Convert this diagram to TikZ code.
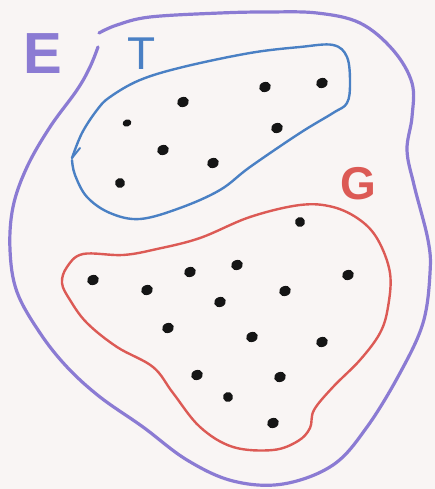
\documentclass[tikz,border=0pt]{standalone}
\usepackage{fontspec}
\setmainfont{Liberation Sans}
\usetikzlibrary{shapes.geometric}
\definecolor{paper}{HTML}{F9F5F4}
\definecolor{penE}{HTML}{8B7BD3}
\definecolor{penT}{HTML}{4A80C4}
\definecolor{penG}{HTML}{DC5A55}
\definecolor{ink}{HTML}{151515}
\begin{document}
\begin{tikzpicture}[x=1pt,y=-1pt,
  dotn/.style={ellipse,fill=ink,inner sep=0pt,minimum width=12pt,minimum height=10pt,rotate=20},
  lbl/.style={inner sep=0pt,anchor=center},
  penline/.style={line width=#1,line cap=round,line join=round}]
\fill[paper] (0,0) rectangle (435,489);
\useasboundingbox (0,0) rectangle (435,489);
% outer set E
\draw[penE,penline=3.2pt] plot[smooth,tension=0.6] coordinates {(99,33) (117,25) (150,17) (220,13) (267,12) (317,13) (360,23) (393,50) (412,83) (412,117) (407,150) (414,185) (428,240) (430,273) (423,323) (400,373) (367,427) (333,465) (283,484) (233,481) (187,460) (143,427) (100,397) (67,367) (40,333) (17,292) (10,250) (13,207) (27,167) (50,127) (77,90) (90,67) (98,47)};
% set T
\draw[penT,penline=2.4pt] plot[smooth,tension=0.6] coordinates {(72,158) (82,133) (97,110) (110,97) (140,80) (183,67) (250,53) (300,47) (333,45) (347,57) (350,83) (347,103) (333,113) (300,133) (250,167) (220,190) (180,208) (140,219) (110,213) (87,197) (75,175) (72,160)};
\draw[penT,penline=2pt] (72,158) -- (80,148);
% set G
\draw[penG,penline=2.4pt] plot[smooth cycle,tension=0.6] coordinates {(200,238) (250,217) (300,205) (333,207) (360,220) (378,240) (390,273) (388,307) (380,333) (360,360) (333,387) (314,410) (310,428) (298,441) (273,450) (233,447) (200,427) (173,393) (153,367) (117,347) (87,323) (70,300) (62,283) (67,267) (83,254) (123,255) (157,249)};
% labels
\node[lbl,text=penE,font=\bfseries\fontsize{58}{58}\selectfont] (E) at (43,54) {E};
\node[lbl,text=penT,font=\fontsize{46}{46}\selectfont] (T) at (142,54) {T};
\node[lbl,text=penG,font=\bfseries\fontsize{46}{46}\selectfont] (G) at (358,184) {G};
% elements of T
\node[dotn] (t1) at (183,102) {};
\node[dotn] (t2) at (265,87) {};
\node[dotn] (t3) at (322,83) {};
\node[dotn,minimum width=9pt,minimum height=7pt] (t4) at (127,123) {};
\node[dotn] (t5) at (277,128) {};
\node[dotn] (t6) at (163,150) {};
\node[dotn] (t7) at (213,163) {};
\node[dotn,minimum width=10pt] (t8) at (120,183) {};
% elements of G
\node[dotn,minimum width=10pt] (g0) at (300,222) {};
\node[dotn] (g1) at (93,280) {};
\node[dotn] (g2) at (147,290) {};
\node[dotn] (g3) at (190,272) {};
\node[dotn] (g4) at (237,265) {};
\node[dotn] (g5) at (220,302) {};
\node[dotn] (g6) at (285,291) {};
\node[dotn] (g7) at (348,275) {};
\node[dotn] (g8) at (168,328) {};
\node[dotn] (g9) at (252,337) {};
\node[dotn] (g10) at (322,342) {};
\node[dotn] (g11) at (197,375) {};
\node[dotn] (g12) at (280,377) {};
\node[dotn,minimum width=10pt] (g13) at (228,397) {};
\node[dotn] (g14) at (273,423) {};
\end{tikzpicture}
\end{document}
